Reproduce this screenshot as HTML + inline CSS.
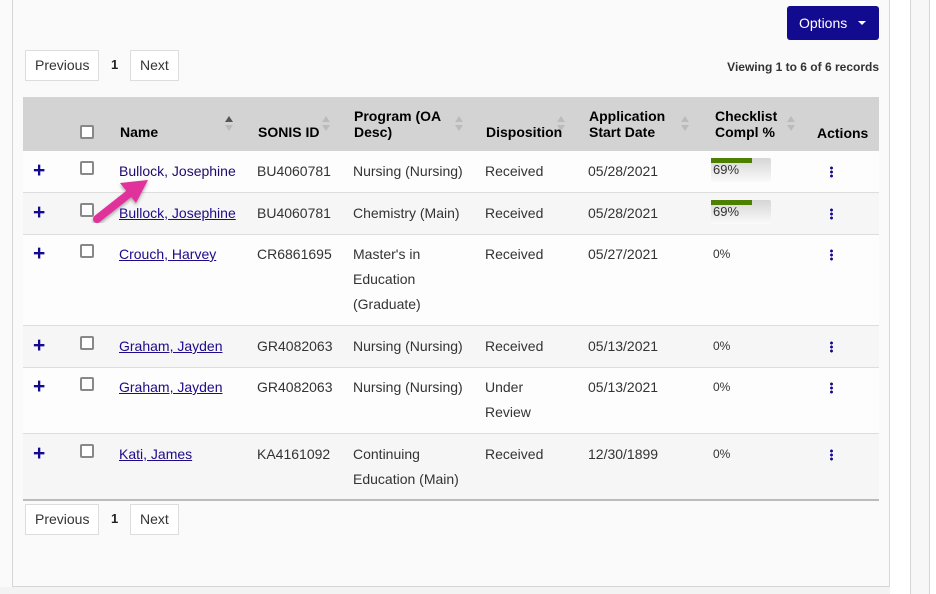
<!DOCTYPE html>
<html><head><meta charset="utf-8"><style>
*{box-sizing:border-box;margin:0;padding:0}
body{width:936px;height:594px;background:#fafafa;font-family:"Liberation Sans",Arial,sans-serif;font-size:14px;color:#333;position:relative;overflow:hidden}
.a{position:absolute}
.btn{position:absolute;border:1px solid #ddd;background:#fff;height:31px;line-height:29px;padding:0 9px;color:#333;font-size:14px}
.hdr{position:absolute;top:97px;left:23px;width:856px;height:54px;background:#d3d3d3}
.h{position:absolute;font-weight:bold;color:#000;font-size:14px;line-height:16px}
.row{position:absolute;left:23px;width:856px;border-top:1px solid #ddd}
.t{position:absolute;line-height:25px;font-size:14px;color:#333;margin-top:1px}
.lk{text-decoration:underline;color:#1f0a8a}
.plus{position:absolute;color:#120a8f;font-weight:bold;font-size:21px;line-height:20px}
.cb{position:absolute;width:14px;height:14px;border:2px solid #888;border-radius:2px;background:#fff}
.dots{position:absolute;width:3px;height:12px;background:radial-gradient(circle,#120a8f 1.3px,transparent 1.6px) 0 0/3px 4px}
.sort{position:absolute;width:8px}
.sort:before{content:"";position:absolute;left:0;top:0;border:4px solid transparent;border-bottom:6px solid #bbb;border-top:0}
.sort:after{content:"";position:absolute;left:0;top:9px;border:4px solid transparent;border-top:6px solid #bbb;border-bottom:0}
.bar{position:absolute;width:60px;height:24px;background:linear-gradient(#d6d6d6,#fafafa);border-radius:2px}
.bar i{position:absolute;left:0;top:0;width:41px;height:5px;background:#4d8000}
.bar span{position:absolute;left:2px;top:4px;font-size:13px;color:#333}
</style></head><body>
<div class="a" style="left:12px;top:0;width:878px;height:587px;border:1px solid #d6d6d6;border-top:0;background:#fafafa"></div>
<div class="a" style="left:0;top:587px;width:910px;height:7px;background:#f3f3f3"></div>
<div class="a" style="left:890px;top:0;width:20px;height:594px;background:#fff"></div>
<div class="a" style="left:910px;top:0;width:1px;height:594px;background:#d6d6d6"></div>
<div class="a" style="left:911px;top:0;width:18px;height:594px;background:#f7f7f7"></div>
<div class="a" style="left:929px;top:0;width:1px;height:594px;background:#d6d6d6"></div>
<div class="a" style="left:930px;top:0;width:6px;height:594px;background:#fff"></div>

<div class="a" style="left:787px;top:6px;width:92px;height:34px;background:#120a8f;border-radius:3px;color:#fff;line-height:34px;padding-left:12px;font-size:14px">Options<span style="position:absolute;left:71px;top:15px;border:4px solid transparent;border-top:4px solid #fff;border-bottom:0"></span></div>

<div class="btn" style="left:25px;top:50px">Previous</div>
<div class="a" style="left:111px;top:57px;font-weight:bold;font-size:13px;color:#222">1</div>
<div class="btn" style="left:130px;top:50px">Next</div>
<div class="a" style="right:57px;top:60px;font-weight:bold;font-size:12px;color:#333">Viewing 1 to 6 of 6 records</div>

<div class="hdr"></div>
<div class="cb" style="left:80px;top:125px;border-color:#888"></div>
<div class="h" style="left:120px;top:124px">Name</div>
<div class="sort" style="left:225px;top:116px"></div>
<div class="a" style="left:225px;top:116px;border:4px solid transparent;border-bottom:6px solid #555;border-top:0"></div>
<div class="h" style="left:258px;top:124px">SONIS ID</div>
<div class="sort" style="left:322px;top:116px"></div>
<div class="h" style="left:354px;top:108px">Program (OA<br>Desc)</div>
<div class="sort" style="left:455px;top:116px"></div>
<div class="h" style="left:486px;top:124px">Disposition</div>
<div class="sort" style="left:557px;top:116px"></div>
<div class="h" style="left:589px;top:108px">Application<br>Start Date</div>
<div class="sort" style="left:681px;top:116px"></div>
<div class="h" style="left:715px;top:108px">Checklist<br>Compl %</div>
<div class="sort" style="left:787px;top:116px"></div>
<div class="h" style="left:817px;top:125px">Actions</div>

<div class="row" style="top:151px;height:41px;background:#fdfdfd;border-top:0"></div>
<div class="row" style="top:192px;height:42px;background:#f6f6f6"></div>
<div class="row" style="top:234px;height:91px;background:#fdfdfd"></div>
<div class="row" style="top:325px;height:42px;background:#f6f6f6"></div>
<div class="row" style="top:367px;height:66px;background:#fdfdfd"></div>
<div class="row" style="top:433px;height:67px;background:#f6f6f6"></div>
<div class="a" style="left:23px;top:499px;width:856px;height:2px;background:#bbb"></div>

<div class="plus" style="left:33px;top:161px">+</div><div class="cb" style="left:80px;top:161px"></div>
<div class="t" style="left:119px;top:158px;color:#1f0a6e">Bullock, Josephine</div>
<div class="t" style="left:257px;top:158px">BU4060781</div>
<div class="t" style="left:353px;top:158px">Nursing (Nursing)</div>
<div class="t" style="left:485px;top:158px">Received</div>
<div class="t" style="left:588px;top:158px">05/28/2021</div>
<div class="bar" style="left:711px;top:158px"><i></i><span>69%</span></div>
<div class="dots" style="left:830px;top:166px"></div>

<div class="plus" style="left:33px;top:203px">+</div><div class="cb" style="left:80px;top:203px"></div>
<div class="t lk" style="left:119px;top:200px">Bullock, Josephine</div>
<div class="t" style="left:257px;top:200px">BU4060781</div>
<div class="t" style="left:353px;top:200px">Chemistry (Main)</div>
<div class="t" style="left:485px;top:200px">Received</div>
<div class="t" style="left:588px;top:200px">05/28/2021</div>
<div class="bar" style="left:711px;top:200px"><i></i><span>69%</span></div>
<div class="dots" style="left:830px;top:208px"></div>

<div class="plus" style="left:33px;top:244px">+</div><div class="cb" style="left:80px;top:244px"></div>
<div class="t lk" style="left:119px;top:241px">Crouch, Harvey</div>
<div class="t" style="left:257px;top:241px">CR6861695</div>
<div class="t" style="left:353px;top:241px">Master's in<br>Education<br>(Graduate)</div>
<div class="t" style="left:485px;top:241px">Received</div>
<div class="t" style="left:588px;top:241px">05/27/2021</div>
<div class="t" style="left:713px;top:241px;font-size:12px">0%</div>
<div class="dots" style="left:830px;top:249px"></div>

<div class="plus" style="left:33px;top:336px">+</div><div class="cb" style="left:80px;top:336px"></div>
<div class="t lk" style="left:119px;top:333px">Graham, Jayden</div>
<div class="t" style="left:257px;top:333px">GR4082063</div>
<div class="t" style="left:353px;top:333px">Nursing (Nursing)</div>
<div class="t" style="left:485px;top:333px">Received</div>
<div class="t" style="left:588px;top:333px">05/13/2021</div>
<div class="t" style="left:713px;top:333px;font-size:12px">0%</div>
<div class="dots" style="left:830px;top:341px"></div>

<div class="plus" style="left:33px;top:377px">+</div><div class="cb" style="left:80px;top:377px"></div>
<div class="t lk" style="left:119px;top:374px">Graham, Jayden</div>
<div class="t" style="left:257px;top:374px">GR4082063</div>
<div class="t" style="left:353px;top:374px">Nursing (Nursing)</div>
<div class="t" style="left:485px;top:374px">Under<br>Review</div>
<div class="t" style="left:588px;top:374px">05/13/2021</div>
<div class="t" style="left:713px;top:374px;font-size:12px">0%</div>
<div class="dots" style="left:830px;top:382px"></div>

<div class="plus" style="left:33px;top:444px">+</div><div class="cb" style="left:80px;top:444px"></div>
<div class="t lk" style="left:119px;top:441px">Kati, James</div>
<div class="t" style="left:257px;top:441px">KA4161092</div>
<div class="t" style="left:353px;top:441px">Continuing<br>Education (Main)</div>
<div class="t" style="left:485px;top:441px">Received</div>
<div class="t" style="left:588px;top:441px">12/30/1899</div>
<div class="t" style="left:713px;top:441px;font-size:12px">0%</div>
<div class="dots" style="left:830px;top:449px"></div>

<div class="btn" style="left:25px;top:504px">Previous</div>
<div class="a" style="left:111px;top:511px;font-weight:bold;font-size:13px;color:#222">1</div>
<div class="btn" style="left:130px;top:504px">Next</div>

<svg class="a" style="left:0;top:0" width="936" height="594">
<defs><filter id="s"><feDropShadow dx="0" dy="2" stdDeviation="1.5" flood-opacity="0.35"/></filter></defs>
<g filter="url(#s)">
<line x1="97" y1="219" x2="130" y2="193" stroke="#e0309a" stroke-width="8" stroke-linecap="round"/>
<polygon points="148,180 120,183 136,203" fill="#e0309a"/>
</g>
</svg>
</body></html>
